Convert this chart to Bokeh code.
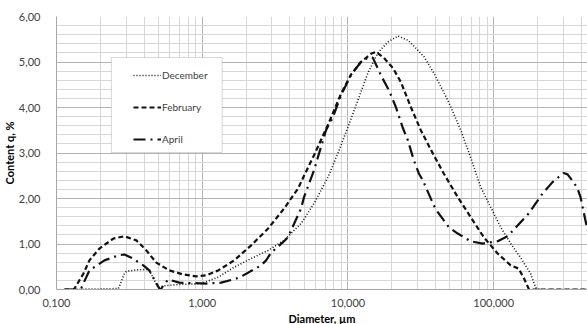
from bokeh.plotting import figure
from bokeh.models import (FixedTicker, Legend, LegendItem, Title, BoxAnnotation,
                          Range1d, CustomJSTickFormatter)
from bokeh.embed import file_html
from bokeh.resources import INLINE

# ---- data (diameter in µm, content q in %) ----
dec_x = [0.1135, 0.2659, 0.2923, 0.3017, 0.3531, 0.4267, 0.4335, 0.4617, 0.4997, 0.5407,
         0.6958, 0.9843, 1.287, 1.657, 2.166, 2.833, 3.645, 4.766, 5.850, 7.295,
         8.541, 10.0, 11.71, 13.71, 16.05, 18.79, 22.01, 25.77, 28.32, 33.16,
         38.82, 48.42, 59.43, 67.44, 81.47, 95.39, 111.7, 130.8, 153.1, 179.2,
         194.0, 210.0, 440.0]
dec_y = [0, 0.02, 0.35, 0.40, 0.43, 0.44, 0.42, 0.25, 0.03, 0.08,
         0.11, 0.13, 0.27, 0.49, 0.68, 0.86, 1.08, 1.45, 1.89, 2.47,
         3.00, 3.57, 4.16, 4.76, 5.20, 5.44, 5.57, 5.48, 5.35, 5.12,
         4.76, 4.16, 3.50, 3.02, 2.25, 1.81, 1.37, 1.01, 0.70, 0.35,
         0.04, 0, 0]

feb_x = [0.1135, 0.1307, 0.1328, 0.1531, 0.1683, 0.1970, 0.2457, 0.2923, 0.3531, 0.4134,
         0.4842, 0.5943, 0.7413, 0.9097, 1.065, 1.287, 1.657, 2.166, 2.833, 3.645,
         4.546, 4.996, 5.850, 7.295, 8.956, 10.48, 12.27, 14.38, 15.55, 17.65,
         20.33, 23.07, 27.01, 31.62, 38.82, 45.44, 56.68, 69.58, 85.42, 106.5,
         130.8, 148.4, 160.5, 173.7, 180.0, 440.0]
feb_y = [0, 0, 0.02, 0.35, 0.64, 0.90, 1.12, 1.17, 1.08, 0.86,
         0.59, 0.42, 0.33, 0.29, 0.31, 0.42, 0.64, 0.97, 1.34, 1.78,
         2.22, 2.50, 2.95, 3.62, 4.30, 4.72, 5.00, 5.18, 5.22, 5.09,
         4.87, 4.56, 4.01, 3.50, 2.95, 2.55, 2.03, 1.59, 1.15, 0.79,
         0.53, 0.46, 0.26, 0.02, 0, 0]

apr_x = [0.1135, 0.1437, 0.1483, 0.1683, 0.2132, 0.2659, 0.2923, 0.3265, 0.3944, 0.4335,
         0.4617, 0.5077, 0.5200, 0.5407, 0.5850, 0.6958, 1.065, 1.349, 1.710, 1.909,
         2.066, 2.536, 2.744, 2.970, 3.588, 3.882, 4.070, 4.766, 4.996, 5.850,
         7.068, 7.895, 8.956, 10.48, 12.27, 13.93, 14.83, 16.83, 19.09, 21.32,
         23.81, 25.77, 28.32, 30.65, 32.64, 38.82, 41.34, 49.19, 56.68, 69.58,
         84.08, 106.5, 124.7, 153.1, 173.7, 216.6, 253.6, 301.7, 321.3, 353.1,
         376.1, 394.4, 440.4]
apr_y = [0, 0, 0.04, 0.42, 0.64, 0.75, 0.77, 0.70, 0.53, 0.42,
         0.26, 0.02, 0, 0.09, 0.22, 0.15, 0.13, 0.15, 0.24, 0.31,
         0.37, 0.53, 0.64, 0.81, 1.04, 1.15, 1.30, 1.78, 2.03, 2.62,
         3.50, 3.79, 4.27, 4.71, 5.00, 5.11, 5.09, 4.71, 4.38, 4.01,
         3.55, 3.28, 2.84, 2.55, 2.40, 1.85, 1.70, 1.37, 1.23, 1.06,
         1.01, 1.06, 1.17, 1.48, 1.67, 2.11, 2.36, 2.56, 2.53, 2.36,
         2.22, 2.03, 1.30]

series_names = ["December", "February", "April"]
x_major = [0.1, 1, 10, 100, 1000]
y_major = [0, 1, 2, 3, 4, 5, 6]
x_title = "Diameter, µm"
y_title = "Content q, %"

FONT = "Lato"

p = figure(width=587, height=324, x_axis_type="log",
           x_range=Range1d(0.1, 440.4), y_range=Range1d(0, 6),
           output_backend="svg", toolbar_location=None,
           min_border_left=55, min_border_right=0, min_border_top=16, min_border_bottom=35)
p.outline_line_color = None
p.background_fill_color = "white"

# ticks / grid
x_minor = [m * d for d in [0.1, 1, 10, 100] for m in range(2, 10)]
y_minor = [i / 5 for i in range(31)]
p.xaxis.ticker = FixedTicker(ticks=x_major, minor_ticks=x_minor)
p.yaxis.ticker = FixedTicker(ticks=y_major, minor_ticks=y_minor)
p.xgrid.ticker = p.xaxis.ticker
p.ygrid.ticker = p.yaxis.ticker
p.xaxis.formatter = CustomJSTickFormatter(code="return tick.toFixed(3).replace('.', ',');")
p.yaxis.formatter = CustomJSTickFormatter(code="return tick.toFixed(2).replace('.', ',');")

for g in (p.xgrid, p.ygrid):
    g.grid_line_color = "#b4b4b4"
    g.grid_line_width = 1
    g.minor_grid_line_color = "#d6d6d6"
    g.minor_grid_line_width = 1

for ax in (p.xaxis, p.yaxis):
    ax.major_tick_line_color = None
    ax.minor_tick_line_color = None
    ax.axis_line_color = "#a6a6a6"
    ax.major_label_text_font = FONT
    ax.major_label_text_font_size = "11px"
    ax.major_label_text_color = "#404040"

p.xaxis.major_label_standoff = 3
p.yaxis.major_label_standoff = 10

# curves
r_dec = p.line(dec_x, dec_y, line_color="#111111", line_width=1.6, line_dash="1 2")
r_feb = p.line(feb_x, feb_y, line_color="#111111", line_width=2.2, line_dash="5 3")
r_apr = p.line(apr_x, apr_y, line_color="#111111", line_width=2.2, line_dash="12 5 2 5")

# axis titles as side-panel titles
p.add_layout(Title(text=x_title, align="center", text_font=FONT, text_font_size="11px",
                   text_font_style="bold", text_color="#000000", standoff=0), "below")
p.add_layout(Title(text=y_title, align="center", text_font=FONT, text_font_size="11px",
                   text_font_style="bold", text_color="#000000", standoff=0), "left")

# legend box
box = BoxAnnotation(left=0.2380, right=1.371, bottom=3.011, top=5.099,
                    fill_color="white", fill_alpha=1.0,
                    line_color="#7f7f7f", line_width=1)
p.add_layout(box)

legend = Legend(items=[LegendItem(label=series_names[0], renderers=[r_dec]),
                       LegendItem(label=series_names[1], renderers=[r_feb]),
                       LegendItem(label=series_names[2], renderers=[r_apr])],
                location=(77, 142), padding=0, margin=0, spacing=16,
                glyph_width=28, glyph_height=16, label_height=16, label_standoff=1,
                border_line_alpha=0, background_fill_alpha=0,
                label_text_font=FONT, label_text_font_size="10px",
                label_text_color="#404040")
p.add_layout(legend, "center")

open("out.html", "w").write(file_html(p, INLINE))
